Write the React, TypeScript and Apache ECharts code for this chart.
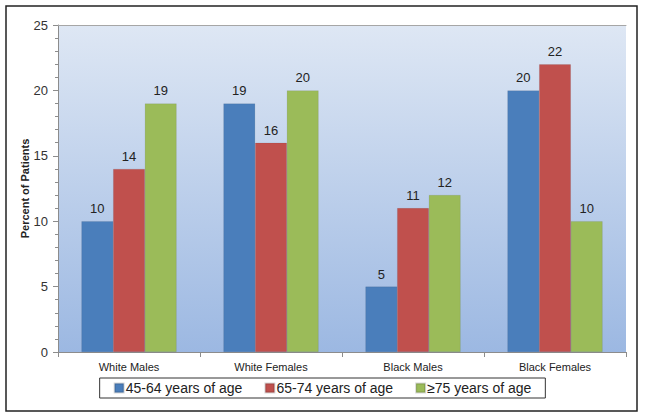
import React, { useEffect, useRef } from "react";
import * as echarts from "echarts";

const categories = ["White Males", "White Females", "Black Males", "Black Females"];
const seriesNames = ["45-64 years of age", "65-74 years of age", "\u226575 years of age"];
const age45to64 = [10, 19, 5, 20];
const age65to74 = [14, 16, 11, 22];
const age75plus = [19, 20, 12, 10];
const colors = ["#4a7ebb", "#c0504d", "#9bbb59"];

export default function App() {
  const ref = useRef<HTMLDivElement>(null);
  useEffect(() => {
    if (!ref.current) return;
    const chart = echarts.init(ref.current, undefined, { renderer: "svg" });
    const font = "Arial, 'Liberation Sans', sans-serif";
    const values = [age45to64, age65to74, age75plus];
    chart.setOption({
      animation: false,
      backgroundColor: "#ffffff",
      textStyle: { fontFamily: font },
      graphic: [
        {
          type: "rect",
          shape: { x: 6, y: 6, width: 631, height: 405 },
          style: { fill: "none", stroke: "#222", lineWidth: 1.5 },
          silent: true,
          z: 100,
        },
      ],
      grid: {
        left: 58,
        right: 19,
        top: 25,
        bottom: 66,
        show: true,
        borderWidth: 0,
        backgroundColor: new echarts.graphic.LinearGradient(0, 0, 0, 1, [
          { offset: 0, color: "#dee7f4" },
          { offset: 1, color: "#9cb8e2" },
        ]),
      },
      legend: {
        left: "center",
        top: 378,
        data: seriesNames,
        itemWidth: 9,
        itemHeight: 9,
        itemGap: 22,
        borderColor: "#333",
        borderWidth: 1,
        borderRadius: 0,
        padding: [3, 14, 3, 14],
        icon: "rect",
        textStyle: { fontSize: 14, color: "#222", fontFamily: font, padding: [0, 0, 0, -3] },
      },
      xAxis: [
        {
          type: "category",
          data: categories,
          axisLine: { lineStyle: { color: "#8c8c8c" } },
          axisTick: { show: true, length: 5, lineStyle: { color: "#8c8c8c" } },
          axisLabel: { fontSize: 11, color: "#222", margin: 9, fontFamily: font },
          splitLine: { show: false },
        },
        {
          type: "category",
          data: categories,
          position: "top",
          axisLine: { show: true, lineStyle: { color: "#a6a6a6" } },
          axisTick: { show: false },
          axisLabel: { show: false },
        },
      ],
      yAxis: {
        type: "value",
        min: 0,
        max: 25,
        interval: 5,
        name: "Percent of Patients",
        nameLocation: "middle",
        nameGap: 28,
        nameMoveOverlap: false,
        nameTextStyle: { fontSize: 11, fontWeight: "bold", color: "#222", fontFamily: font },
        axisLine: { show: true, lineStyle: { color: "#8c8c8c" } },
        axisTick: { show: true, length: 5, lineStyle: { color: "#8c8c8c" } },
        minorTick: { show: true, splitNumber: 5, length: 3, lineStyle: { color: "#8c8c8c" } },
        axisLabel: { fontSize: 13, color: "#333", margin: 10, fontFamily: font },
        splitLine: { show: false },
      },
      series: seriesNames.map((name, i) => ({
        name,
        type: "bar",
        data: values[i],
        barGap: "0%",
        barCategoryGap: "33%",
        itemStyle: { color: colors[i], borderColor: "rgba(0,0,0,0.15)", borderWidth: 0.5 },
        label: { show: true, position: "top", fontSize: 13, color: "#222", distance: 6, fontFamily: font },
      })),
    });
    return () => chart.dispose();
  }, []);
  return (
    <div
      ref={ref}
      style={{ position: "fixed", left: 0, top: 0, width: 645, height: 418 }}
    />
  );
}
